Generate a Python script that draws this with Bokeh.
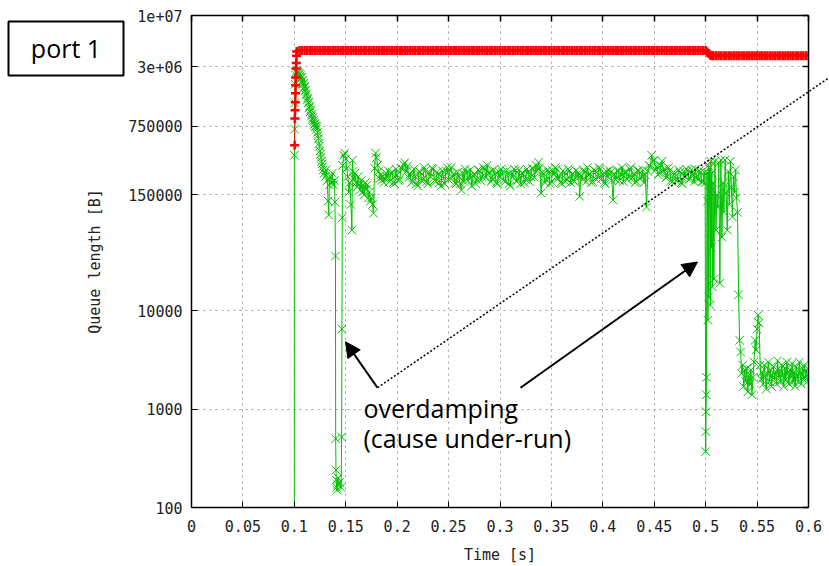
import math
from bokeh.plotting import figure
from bokeh.models import (FixedTicker, LogAxis, LinearAxis, Label, Arrow,
                          NormalHead, Range1d, ColumnDataSource)
from bokeh.core.properties import value
from bokeh.embed import file_html
from bokeh.resources import INLINE

# ---------------- data (time in ms, queue in kB) ----------------
# red series ("+" markers): initial ramp, plateau, step down, tail
red_ramp_t = [100.3, 100.5, 100.7, 100.9, 101.1, 101.3, 101.5, 101.7, 101.9, 102.1, 102.3]
red_ramp_q = [481, 900, 1090, 1310, 1620, 1950, 2350, 2900, 3300, 3900, 4300]

red_plateau_t = [105, 107.5, 110, 112.5, 115, 117.5, 120, 122.5, 125, 127.5,
                 130, 132.5, 135, 137.5, 140, 142.5, 145, 147.5, 150, 152.5,
                 155, 157.5, 160, 162.5, 165, 167.5, 170, 172.5, 175, 177.5,
                 180, 182.5, 185, 187.5, 190, 192.5, 195, 197.5, 200, 202.5,
                 205, 207.5, 210, 212.5, 215, 217.5, 220, 222.5, 225, 227.5,
                 230, 232.5, 235, 237.5, 240, 242.5, 245, 247.5, 250, 252.5,
                 255, 257.5, 260, 262.5, 265, 267.5, 270, 272.5, 275, 277.5,
                 280, 282.5, 285, 287.5, 290, 292.5, 295, 297.5, 300, 302.5,
                 305, 307.5, 310, 312.5, 315, 317.5, 320, 322.5, 325, 327.5,
                 330, 332.5, 335, 337.5, 340, 342.5, 345, 347.5, 350, 352.5,
                 355, 357.5, 360, 362.5, 365, 367.5, 370, 372.5, 375, 377.5,
                 380, 382.5, 385, 387.5, 390, 392.5, 395, 397.5, 400, 402.5,
                 405, 407.5, 410, 412.5, 415, 417.5, 420, 422.5, 425, 427.5,
                 430, 432.5, 435, 437.5, 440, 442.5, 445, 447.5, 450, 452.5,
                 455, 457.5, 460, 462.5, 465, 467.5, 470, 472.5, 475, 477.5,
                 480, 482.5, 485, 487.5, 490, 492.5, 495, 497.5]
red_plateau_q = [4420, 4420, 4420, 4420, 4420, 4420, 4420, 4420, 4420, 4420,
                 4420, 4420, 4420, 4420, 4420, 4420, 4420, 4420, 4420, 4420,
                 4420, 4420, 4420, 4420, 4420, 4420, 4420, 4420, 4420, 4420,
                 4420, 4420, 4420, 4420, 4420, 4420, 4420, 4420, 4420, 4420,
                 4420, 4420, 4420, 4420, 4420, 4420, 4420, 4420, 4420, 4420,
                 4420, 4420, 4420, 4420, 4420, 4420, 4420, 4420, 4420, 4420,
                 4420, 4420, 4420, 4420, 4420, 4420, 4420, 4420, 4420, 4420,
                 4420, 4420, 4420, 4420, 4420, 4420, 4420, 4420, 4420, 4420,
                 4420, 4420, 4420, 4420, 4420, 4420, 4420, 4420, 4420, 4420,
                 4420, 4420, 4420, 4420, 4420, 4420, 4420, 4420, 4420, 4420,
                 4420, 4420, 4420, 4420, 4420, 4420, 4420, 4420, 4420, 4420,
                 4420, 4420, 4420, 4420, 4420, 4420, 4420, 4420, 4420, 4420,
                 4420, 4420, 4420, 4420, 4420, 4420, 4420, 4420, 4420, 4420,
                 4420, 4420, 4420, 4420, 4420, 4420, 4420, 4420, 4420, 4420,
                 4420, 4420, 4420, 4420, 4420, 4420, 4420, 4420, 4420, 4420,
                 4420, 4420, 4420, 4420, 4420, 4420, 4420, 4420]
red_step_t = [500, 501.5, 503, 504.5, 506]
red_step_q = [4420, 4250, 4100, 3950, 3900]
red_tail_t = [507.5, 510, 512.5, 515, 517.5, 520, 522.5, 525, 527.5, 530,
              532.5, 535, 537.5, 540, 542.5, 545, 547.5, 550, 552.5, 555,
              557.5, 560, 562.5, 565, 567.5, 570, 572.5, 575, 577.5, 580,
              582.5, 585, 587.5, 590, 592.5, 595, 597.5, 600]
red_tail_q = [3900, 3900, 3900, 3900, 3900, 3900, 3900, 3900, 3900, 3900,
              3900, 3900, 3900, 3900, 3900, 3900, 3900, 3900, 3900, 3900,
              3900, 3900, 3900, 3900, 3900, 3900, 3900, 3900, 3900, 3900,
              3900, 3900, 3900, 3900, 3900, 3900, 3900, 3900]

# green series ("x" markers)
green_rise_t = [100.0, 100.0, 100.3, 100.5, 100.8, 101.1, 101.5, 102.0, 102.5, 103.0,
                103.5, 104.0, 104.5, 105.0, 105.5, 106, 106.5, 107, 107.5, 108,
                108.5, 109, 109.5, 110, 110.5, 111, 111.5, 112, 112.5, 113,
                113.5, 114, 114.5, 115, 115.5, 116, 116.5, 117, 117.5, 118,
                118.5, 119, 119.5, 120, 120.5, 121, 121.5, 122, 122.5, 123,
                123.5, 124, 124.5, 125, 125.5, 126, 126.5, 127, 127.5, 128]
green_rise_q = [0.001, 380, 700, 1300, 2000, 2500, 2650, 2700, 2600, 2750,
                2650, 2600, 2500, 2550, 2350, 2450, 2300, 2350, 2150, 2200,
                2000, 2050, 1850, 1900, 1700, 1750, 1550, 1600, 1400, 1450,
                1300, 1300, 1150, 1200, 1050, 1100, 950, 1000, 880, 920,
                820, 860, 780, 800, 740, 760, 700, 740, 650, 600,
                560, 500, 470, 420, 390, 360, 330, 310, 290, 270]

green_dip_t = [129, 130, 131, 132, 132.8, 133.5, 134, 135, 136, 137,
               138, 139, 139.5, 140, 140.2, 140.5, 140.8, 141.2, 141.6, 142,
               142.5, 144, 145.5, 146, 146.3, 146.6, 147, 148, 149, 150,
               151, 152, 153, 154, 155, 156, 156.5, 157, 158, 159,
               160, 161, 162, 163, 164, 165, 166, 167, 168, 169,
               170, 171, 172, 173, 174, 175, 176, 177, 178, 179,
               180, 181, 182, 183, 184, 185, 186, 187, 188, 189]
green_dip_q = [250, 230, 270, 210, 130, 94, 190, 230, 200, 250,
               190, 210, 127, 36, 0.5, 0.24, 0.19, 0.16, 0.15, 0.17,
               0.2, 0.18, 0.16, 0.52, 6.5, 88, 300, 380, 400, 350,
               280, 230, 160, 200, 120, 66, 338, 260, 220, 250,
               200, 180, 230, 190, 170, 210, 160, 190, 150, 200,
               170, 190, 140, 160, 130, 140, 120, 98, 280, 400,
               360, 300, 260, 220, 240, 210, 230, 200, 220, 250]

green_plateau_t = [190, 191.25, 192.5, 193.75, 195, 196.25, 197.5, 198.75,
                   200, 201.25, 202.5, 203.75, 205, 206.25, 207.5, 208.75,
                   210, 211.25, 212.5, 213.75, 215, 216.25, 217.5, 218.75,
                   220, 221.25, 222.5, 223.75, 225, 226.25, 227.5, 228.75,
                   230, 231.25, 232.5, 233.75, 235, 236.25, 237.5, 238.75,
                   240, 241.25, 242.5, 243.75, 245, 246.25, 247.5, 248.75,
                   250, 251.25, 252.5, 253.75, 255, 256.25, 257.5, 258.75,
                   260, 261.25, 262.5, 263.75, 265, 266.25, 267.5, 268.75,
                   270, 271.25, 272.5, 273.75, 275, 276.25, 277.5, 278.75,
                   280, 281.25, 282.5, 283.75, 285, 286.25, 287.5, 288.75,
                   290, 291.25, 292.5, 293.75, 295, 296.25, 297.5, 298.75,
                   300, 301.25, 302.5, 303.75, 305, 306.25, 307.5, 308.75,
                   310, 311.25, 312.5, 313.75, 315, 316.25, 317.5, 318.75,
                   320, 321.25, 322.5, 323.75, 325, 326.25, 327.5, 328.75,
                   330, 331.25, 332.5, 333.75, 335, 336.25, 337.5, 338.75,
                   340, 341.25, 342.5, 343.75, 345, 346.25, 347.5, 348.75,
                   350, 351.25, 352.5, 353.75, 355, 356.25, 357.5, 358.75,
                   360, 361.25, 362.5, 363.75, 365, 366.25, 367.5, 368.75,
                   370, 371.25, 372.5, 373.75, 375, 376.25, 377.5, 378.75,
                   380, 381.25, 382.5, 383.75, 385, 386.25, 387.5, 388.75,
                   390, 391.25, 392.5, 393.75, 395, 396.25, 397.5, 398.75,
                   400, 401.25, 402.5, 403.75, 405, 406.25, 407.5, 408.75,
                   410, 411.25, 412.5, 413.75, 415, 416.25, 417.5, 418.75,
                   420, 421.25, 422.5, 423.75, 425, 426.25, 427.5, 428.75,
                   430, 431.25, 432.5, 433.75, 435, 436.25, 437.5, 438.75,
                   440, 441.25, 442.5, 443.75, 445, 446.25, 447.5, 448.75,
                   450, 451.25, 452.5, 453.75, 455, 456.25, 457.5, 458.75,
                   460, 461.25, 462.5, 463.75, 465, 466.25, 467.5, 468.75,
                   470, 471.25, 472.5, 473.75, 475, 476.25, 477.5, 478.75,
                   480, 481.25, 482.5, 483.75, 485, 486.25, 487.5, 488.75,
                   490, 491.25, 492.5, 493.75, 495, 496.25, 497.5, 498.75]
green_plateau_q = [230, 265, 205, 250, 255, 200, 195, 275,
                   240, 210, 215, 280, 275, 305, 320, 260,
                   295, 225, 245, 200, 205, 275, 230, 195,
                   185, 260, 255, 210, 215, 285, 265, 205,
                   195, 255, 230, 280, 275, 210, 205, 255,
                   245, 200, 185, 265, 230, 195, 265, 285,
                   215, 270, 285, 225, 245, 200, 195, 255,
                   230, 195, 168, 250, 205, 275, 255, 210,
                   230, 270, 185, 235, 245, 195, 215, 270,
                   265, 210, 230, 285, 275, 225, 300, 250,
                   255, 205, 215, 270, 245, 200, 195, 260,
                   230, 275, 255, 210, 205, 265, 245, 195,
                   185, 250, 230, 275, 265, 205, 215, 270,
                   195, 250, 245, 200, 215, 275, 255, 205,
                   230, 280, 275, 225, 300, 265, 322, 285,
                   157, 255, 245, 200, 215, 270, 255, 195,
                   205, 265, 245, 285, 275, 220, 235, 200,
                   195, 265, 255, 205, 215, 275, 265, 200,
                   245, 210, 205, 265, 230, 255, 145, 235,
                   215, 270, 255, 205, 285, 240, 245, 200,
                   205, 270, 265, 215, 230, 285, 275, 220,
                   245, 200, 195, 260, 230, 270, 255, 210,
                   133, 245, 215, 265, 265, 210, 245, 285,
                   205, 255, 255, 215, 230, 275, 285, 225,
                   245, 200, 205, 265, 265, 220, 230, 270,
                   200, 240, 113, 260, 300, 290, 380, 330,
                   340, 270, 290, 240, 250, 300, 330, 260,
                   275, 225, 230, 285, 265, 210, 205, 255,
                   245, 210, 215, 270, 255, 200, 195, 260,
                   230, 275, 265, 215, 220, 270, 245, 205,
                   275, 225, 215, 265, 255, 205, 205, 255]

green_burst_t = [499.5, 500.0, 500.2, 500.4, 500.6, 500.8, 501.2, 501.8, 502.2, 502.6,
                 503.0, 503.6, 504.0, 504.5, 505.0, 505.5, 506.0, 506.5, 507.2, 508.0,
                 509.0, 510.0, 511.0, 511.8, 512.8, 513.8, 514.8, 515.8, 516.8, 517.8,
                 519.0, 520.0, 521.0, 522.0, 523.0, 524.0, 525.0, 526.0, 527.0, 528.0,
                 529.0, 530.0, 531.0, 532.0, 533.0, 534.0]
green_burst_q = [200, 0.37, 0.59, 0.94, 1.4, 2.1, 250, 130, 8, 300,
                 13.8, 280, 160, 11.4, 330, 44, 250, 17.5, 200, 21,
                 330, 66, 150, 113, 320, 19, 340, 56, 200, 100,
                 340, 157, 66, 260, 120, 330, 180, 90, 230, 160,
                 270, 140, 100, 14.5, 5, 3.8]

green_tail_t = [535, 536, 537, 538, 539, 540, 541, 542, 543, 544,
                545, 546, 547, 548, 549, 550, 551, 552, 553, 554,
                555, 556, 557, 558, 559, 560, 561, 562, 563, 564,
                565, 566, 567, 568, 569, 570, 571, 572, 573, 574,
                575, 576, 577, 578, 579, 580, 581, 582, 583, 584,
                585, 586, 587, 588, 589, 590, 591, 592, 593, 594,
                595, 596, 597, 598, 599, 600]
green_tail_q = [2.3, 2.8, 1.7, 2.5, 1.9, 2.6, 1.5, 2.2, 1.8, 2.5,
                1.4, 2.1, 3.0, 5.0, 4.0, 6.5, 9.0, 7.5, 2.8, 2.0,
                2.4, 1.8, 2.8, 2.1, 1.6, 2.3, 3.0, 1.9, 2.5, 1.7,
                2.2, 2.7, 2.0, 2.4, 1.8, 3.1, 2.1, 2.5, 1.9, 2.8,
                2.2, 1.7, 2.6, 2.0, 3.0, 2.3, 1.8, 2.5, 2.1, 2.9,
                1.9, 2.4, 1.7, 2.7, 2.2, 1.9, 3.0, 2.3, 1.8, 2.6,
                2.0, 2.8, 2.1, 2.5, 1.9, 2.3]

x_ticks = [0, 0.05, 0.1, 0.15, 0.2, 0.25, 0.3, 0.35, 0.4, 0.45, 0.5, 0.55, 0.6]
x_tick_labels = ["0", "0.05", "0.1", "0.15", "0.2", "0.25", "0.3", "0.35",
                 "0.4", "0.45", "0.5", "0.55", "0.6"]
y_ticks = [100, 1000, 10000, 150000, 750000, 3000000, 10000000]
y_tick_labels = ["100", "1000", "10000", "150000", "750000", "3e+06", "1e+07"]

# ---------------- assemble ----------------
red_t = red_ramp_t + red_plateau_t + red_step_t + red_tail_t
red_q = red_ramp_q + red_plateau_q + red_step_q + red_tail_q
green_t = green_rise_t + green_dip_t + green_plateau_t + green_burst_t + green_tail_t
green_q = green_rise_q + green_dip_q + green_plateau_q + green_burst_q + green_tail_q

red_src = ColumnDataSource(dict(t=[v / 1000 for v in red_t], q=[v * 1000 for v in red_q]))
green_src = ColumnDataSource(dict(t=[v / 1000 for v in green_t], q=[v * 1000 for v in green_q]))

W, H = 829, 566
BL, BR, BT, BB = 191, 21, 15, 58
X0, X1 = 0.0, 0.6
Y0, Y1 = 100, 1e7

p = figure(width=W, height=H, x_range=Range1d(X0, X1), y_range=Range1d(Y0, Y1),
           y_axis_type="log", output_backend="svg", toolbar_location=None,
           min_border_left=BL, min_border_right=BR, min_border_top=BT,
           min_border_bottom=BB, title=None)
p.background_fill_color = "white"
p.border_fill_color = "white"
p.outline_line_color = "black"
p.outline_line_width = 1.5

TICK_FONT = "DejaVu Sans Mono"
TXT = "#222222"

xa = p.below[0]
xa.ticker = FixedTicker(ticks=x_ticks)
xa.major_label_overrides = dict(zip(x_ticks, x_tick_labels))
ya = p.left[0]
ya.ticker = FixedTicker(ticks=y_ticks)
ya.major_label_overrides = dict(zip(y_ticks, y_tick_labels))

for ax in (xa, ya):
    ax.major_tick_in = 6
    ax.major_tick_out = 0
    ax.minor_tick_line_color = None
    ax.axis_line_color = "black"
    ax.major_tick_line_color = "black"
    ax.major_label_text_font = TICK_FONT
    ax.major_label_text_font_size = "15px"
    ax.major_label_text_color = TXT
    ax.axis_label_text_font = TICK_FONT
    ax.axis_label_text_font_size = "15px"
    ax.axis_label_text_font_style = "normal"
    ax.axis_label_text_color = TXT
xa.axis_label = "Time [s]"
xa.major_label_standoff = 12
xa.axis_label_standoff = 11
ya.axis_label = "Queue length [B]"
ya.major_label_standoff = 9
ya.axis_label_standoff = 21

# mirrored ticks on top and right (drawn as unlabeled minor ticks)
top = LinearAxis(ticker=FixedTicker(ticks=[], minor_ticks=x_ticks),
                 minor_tick_in=6, minor_tick_out=0, minor_tick_line_color="black",
                 minor_tick_line_width=1.5,
                 major_tick_line_color=None, axis_line_color="black")
right = LogAxis(ticker=FixedTicker(ticks=[], minor_ticks=y_ticks),
                minor_tick_in=6, minor_tick_out=0, minor_tick_line_color="black",
                minor_tick_line_width=1.5,
                major_tick_line_color=None, axis_line_color="black")
p.add_layout(top, "above")
p.add_layout(right, "right")

for g in p.xgrid:
    g.ticker = FixedTicker(ticks=x_ticks)
for g in p.ygrid:
    g.ticker = FixedTicker(ticks=y_ticks)
p.grid.grid_line_color = "#a0a0a0"
p.grid.grid_line_dash = "2 4"
p.grid.grid_line_width = 1

GREEN = "#00c000"
RED = "#ff0000"
p.line("t", "q", source=green_src, line_color=GREEN, line_width=1)
p.scatter("t", "q", source=green_src, marker="x", size=12, line_color=GREEN, line_width=1)
p.line("t", "q", source=red_src, line_color=RED, line_width=1)
p.scatter("t", "q", source=red_src, marker="cross", size=9, line_color=RED, line_width=2.5)

# ---------------- annotations (placed by canvas pixel) ----------------
def cx(px):
    return X0 + (px - BL) / (W - BL - BR) * (X1 - X0)

def cy(py):
    return 10 ** (math.log10(Y1) - (py - BT) / (H - BT - BB) * (math.log10(Y1) - math.log10(Y0)))

ANN_FONT = "Open Sans"
# items reaching outside the frame are drawn at overlay level
p.quad(left=[cx(8)], right=[cx(123)], top=[cy(21)], bottom=[cy(75)],
       fill_color="white", line_color="black", line_width=2, level="overlay")
p.text(x=[cx(65.5)], y=[cy(48)], text=["port 1"], text_align="center",
       text_baseline="middle", text_font=value(ANN_FONT), text_font_size="25px",
       text_color="black", level="overlay")
p.segment(x0=[cx(377)], y0=[cy(388)], x1=[cx(829)], y1=[cy(77)],
          line_color="black", line_width=1.5, line_dash="2 2", level="overlay")

p.add_layout(Label(x=cx(363), y=cy(408), text="overdamping", text_align="left",
                   text_baseline="alphabetic", text_font=ANN_FONT, text_font_size="25px",
                   text_color="black"))
p.add_layout(Label(x=cx(363), y=cy(438), text="(cause under-run)", text_align="left",
                   text_baseline="alphabetic", text_font=ANN_FONT, text_font_size="25px",
                   text_color="black"))
p.add_layout(Arrow(x_start=cx(377), y_start=cy(388), x_end=cx(345), y_end=cy(342),
                   line_color="black", line_width=2,
                   end=NormalHead(size=15, fill_color="black", line_color="black")))
p.add_layout(Arrow(x_start=cx(520), y_start=cy(388), x_end=cx(697), y_end=cy(262),
                   line_color="black", line_width=2,
                   end=NormalHead(size=15, fill_color="black", line_color="black")))

open("out.html", "w").write(file_html(p, INLINE))
